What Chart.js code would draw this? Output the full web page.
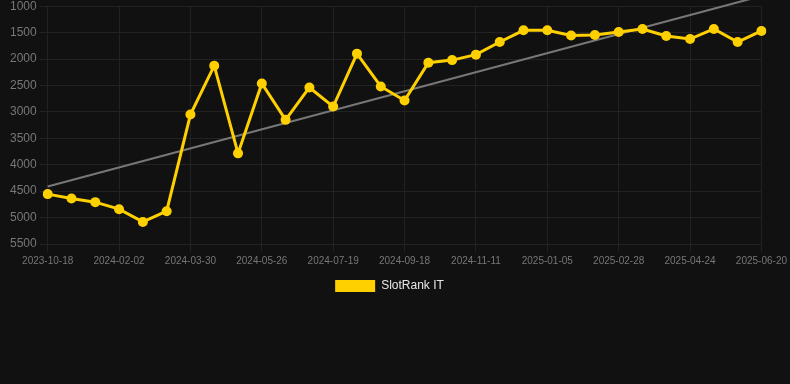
<!DOCTYPE html>
<html>
<head>
<meta charset="utf-8">
<script src="https://cdn.jsdelivr.net/npm/chart.js@4/dist/chart.umd.min.js"></script>
<style>
  html, body { margin: 0; padding: 0; background: #111111; overflow: hidden; }
  #wrap { width: 790px; height: 306px; margin-top: -4px; position: relative; }
</style>
</head>
<body>
<div id="wrap"><canvas id="rankChart"></canvas></div>
<script>
// ----- Data -----
const dates = [
  "2023-10-18", "2023-11-22", "2023-12-28",
  "2024-02-02", "2024-02-21", "2024-03-11",
  "2024-03-30", "2024-04-18", "2024-05-07",
  "2024-05-26", "2024-06-13", "2024-07-01",
  "2024-07-19", "2024-08-08", "2024-08-28",
  "2024-09-18", "2024-10-06", "2024-10-24",
  "2024-11-11", "2024-11-29", "2024-12-17",
  "2025-01-05", "2025-01-23", "2025-02-10",
  "2025-02-28", "2025-03-18", "2025-04-05",
  "2025-04-24", "2025-05-13", "2025-06-01",
  "2025-06-20"
];

const slotRank = [
  4556, 4640, 4708, 4841, 5082, 4879, 3051, 2126, 3785, 2462,
  3151, 2538, 2899, 1898, 2519, 2785, 2069, 2020, 1917, 1678,
  1456, 1456, 1556, 1545, 1488, 1431, 1564, 1621, 1431, 1678,
  1469
];

// trend line: start and end only
const trend = [
  { x: "2023-10-18", y: 4412 },
  { x: "2025-06-20", y: 806 }
];

const yTicks = [1000, 1500, 2000, 2500, 3000, 3500, 4000, 4500, 5000, 5500];

// ----- Chart -----
Chart.defaults.font.family = "'Liberation Sans', Arial, sans-serif";

// nudge the legend a little to the left, like the original
const legendNudge = {
  id: "legendNudge",
  afterLayout(chart) {
    chart.legend.left -= 9;
    chart.legend.right -= 9;
  }
};

const ctx = document.getElementById("rankChart").getContext("2d");
new Chart(ctx, {
  type: "line",
  data: {
    labels: dates,
    datasets: [
      {
        label: "SlotRank IT",
        data: slotRank,
        borderColor: "#FFD000",
        backgroundColor: "#FFD000",
        borderWidth: 3,
        pointRadius: 5,
        pointBackgroundColor: "#FFD000",
        pointBorderWidth: 0,
        tension: 0,
        fill: false
      },
      {
        label: "trend",
        data: trend,
        borderColor: "#777777",
        borderWidth: 2,
        pointRadius: 0,
        tension: 0,
        clip: false,
        fill: false
      }
    ]
  },
  options: {
    responsive: true,
    maintainAspectRatio: false,
    animation: false,
    layout: { padding: { left: 7 } },
    plugins: {
      legend: {
        position: "bottom",
        labels: {
          color: "#e6e6e6",
          font: { size: 12 },
          boxWidth: 40,
          boxHeight: 12,
          generateLabels: chart =>
            Chart.defaults.plugins.legend.labels.generateLabels(chart)
              .filter(item => item.text === "SlotRank IT")
              .map(item => ({ ...item, lineWidth: 0 }))
        }
      },
      tooltip: { enabled: false }
    },
    scales: {
      x: {
        grid: { color: "#222222", tickLength: 8 },
        border: { color: "#222222" },
        ticks: {
          color: "#777777",
          font: { size: 10 },
          maxRotation: 0,
          autoSkip: false,
          callback: (v, i) => (i % 3 === 0 ? dates[i] : null)
        }
      },
      y: {
        reverse: true,
        min: 1000,
        max: 5500,
        afterBuildTicks: axis => { axis.ticks = yTicks.map(v => ({ value: v })); },
        grid: { color: "#222222", tickLength: 8 },
        border: { color: "#222222" },
        ticks: {
          color: "#777777",
          font: { size: 12 },
          padding: 3,
          callback: v => String(v)
        }
      }
    }
  },
  plugins: [legendNudge]
});
</script>
</body>
</html>
